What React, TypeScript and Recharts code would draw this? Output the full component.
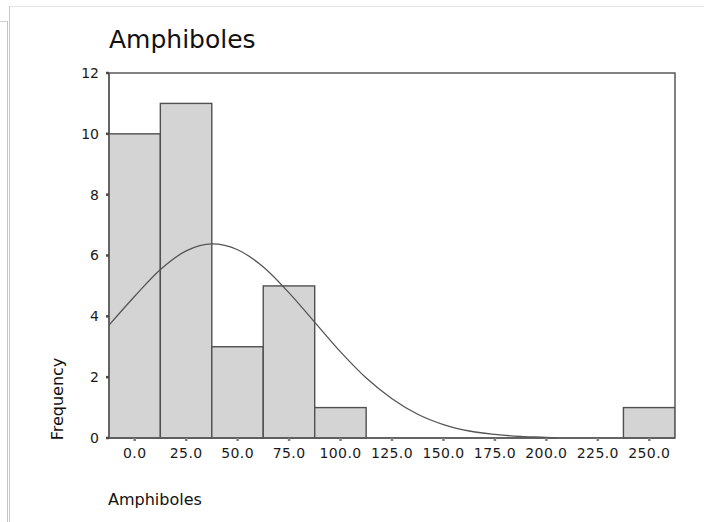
/**
 * Amphiboles histogram with fitted normal curve (SPSS-style)
 */
import {
  ComposedChart,
  Bar,
  Line,
  XAxis,
  YAxis,
  ReferenceArea,
} from 'recharts';

// Bin centres (width 25) and their counts
const binCenters = [0, 25, 50, 75, 100, 250];
const binCounts = [10, 11, 3, 5, 1, 1];
const BIN_WIDTH = 25;

const curveX = [
  -12.5, 0, 12.5, 25, 37.5, 50, 62.5, 75, 87.5, 100, 112.5, 125, 137.5, 150, 162.5, 175,
  187.5, 200, 205,
];
const curveY = [
  3.71, 4.66, 5.54, 6.15, 6.38, 6.19, 5.62, 4.77, 3.8, 2.83, 1.97, 1.29, 0.78, 0.44, 0.23,
  0.12, 0.05, 0.02, 0.0,
];

const xTicks = [0, 25, 50, 75, 100, 125, 150, 175, 200, 225, 250];
const yTicks = [0, 2, 4, 6, 8, 10, 12];

const X_DOMAIN: [number, number] = [-12.5, 262.5];

const barData = binCenters.map((x, i) => ({ x, count: binCounts[i] }));
const curveData = curveX.map((x, i) => ({ x, y: curveY[i] }));

const FONT = '"DejaVu Sans", Verdana, sans-serif';
const AXIS = '#5a5a5a';

const CHART_W = 704;
const CHART_H = 522;
const MARGIN = { top: 73, right: 29, left: 69, bottom: 54 };
const Y_AXIS_W = 40;
const PLOT_W = CHART_W - MARGIN.left - MARGIN.right - Y_AXIS_W;
// a histogram bar spans the full bin width on the numeric axis
const BIN_PX = (PLOT_W * BIN_WIDTH) / (X_DOMAIN[1] - X_DOMAIN[0]);

const HistBar = (props: any) => {
  const { x, y, width, height } = props;
  if (!height || height <= 0) return null;
  const cx = x + width / 2;
  return (
    <rect
      x={cx - BIN_PX / 2}
      y={y}
      width={BIN_PX}
      height={height}
      fill="#d4d4d4"
      stroke="#505050"
      strokeWidth={1.4}
    />
  );
};

const App = () => {
  return (
    <div
      style={{
        position: 'absolute',
        left: 0,
        top: 0,
        width: CHART_W,
        height: CHART_H,
        background: '#fff',
        overflow: 'hidden',
        fontFamily: FONT,
      }}
    >
      {/* viewer frame edges */}
      <div style={{ position: 'absolute', left: 0, top: 21, width: 7, height: 501, borderTop: '1px solid #cfcfcf', borderRight: '1px solid #c4c4c4' }} />
      <div style={{ position: 'absolute', left: 9, top: 6, width: 695, height: 516, borderTop: '1px solid #e6e6e6', borderLeft: '1px solid #c8c8c8' }} />

      <div
        style={{
          position: 'absolute',
          left: 109,
          top: 23,
          fontSize: 25,
          lineHeight: '34px',
          color: '#111',
        }}
      >
        Amphiboles
      </div>

      <div
        style={{
          position: 'absolute',
          left: 57,
          top: 399,
          fontSize: 16,
          color: '#111',
          whiteSpace: 'nowrap',
          transform: 'translate(-50%, -50%) rotate(-90deg)',
        }}
      >
        Frequency
      </div>

      <div
        style={{
          position: 'absolute',
          left: 108,
          top: 489,
          fontSize: 16,
          lineHeight: '22px',
          color: '#111',
        }}
      >
        Amphiboles
      </div>

      <div style={{ position: 'absolute', left: 0, top: 0 }}>
        <ComposedChart width={CHART_W} height={CHART_H} data={barData} margin={MARGIN}>
          <XAxis
            dataKey="x"
            type="number"
            domain={X_DOMAIN}
            ticks={xTicks}
            allowDataOverflow
            tickFormatter={(v: number) => v.toFixed(1)}
            height={30}
            tickSize={3}
            tickMargin={7}
            axisLine={{ stroke: AXIS, strokeWidth: 1.5 }}
            tickLine={{ stroke: '#808080', strokeWidth: 2.5 }}
            tick={{ fill: '#1a1a1a', fontSize: 14, fontFamily: FONT, letterSpacing: 0.4 }}
          />
          <YAxis
            type="number"
            domain={[0, 12]}
            ticks={yTicks}
            width={Y_AXIS_W}
            tickSize={3}
            tickMargin={7}
            axisLine={{ stroke: AXIS, strokeWidth: 1.5 }}
            tickLine={{ stroke: '#4a4a4a', strokeWidth: 2.5 }}
            tick={{ fill: '#1a1a1a', fontSize: 14, fontFamily: FONT }}
          />
          <ReferenceArea
            x1={X_DOMAIN[0]}
            x2={X_DOMAIN[1]}
            y1={0}
            y2={12}
            fill="none"
            stroke={AXIS}
            strokeWidth={1.5}
            ifOverflow="visible"
          />
          <Bar dataKey="count" shape={HistBar} isAnimationActive={false} />
          <Line
            data={curveData}
            dataKey="y"
            type="monotone"
            stroke="#555"
            strokeWidth={1.3}
            dot={false}
            activeDot={false}
            isAnimationActive={false}
          />
        </ComposedChart>
      </div>
    </div>
  );
};

export default App;
